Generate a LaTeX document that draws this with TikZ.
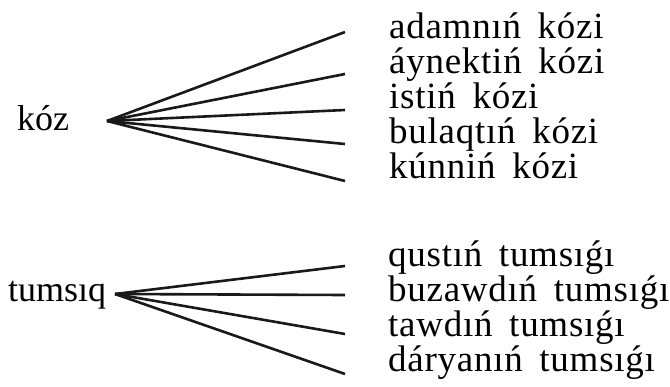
\documentclass[tikz,border=0pt]{standalone}
\usepackage{fontspec}
\setmainfont{Liberation Serif}
\newfontfamily\wordfont{Liberation Serif}[LetterSpace=2]
\newcommand{\wsp}{\hspace{0.45em}}
\tikzset{
  head/.style={anchor=base west, inner sep=0pt, font=\fontsize{36}{36}\selectfont},
  word/.style={anchor=base west, inner sep=0pt, font=\wordfont\fontsize{37}{37}\selectfont},
  ray/.style={line width=2.6pt, black!90}
}
\begin{document}
\begin{tikzpicture}[x=1pt,y=-1pt]
  % page size of the reference, measured in px
  \useasboundingbox (0,0) rectangle (670,386);
  % first group
  \node[head] (koz) at (17,130) {kóz};
  \coordinate (kozO) at (107,121);
  \node[word] (k1) at (389,38) {adamnıń\wsp kózi};
  \node[word] (k2) at (389,73) {áynektiń\wsp kózi};
  \node[word] (k3) at (389,108) {istiń\wsp kózi};
  \node[word] (k4) at (389,143) {bulaqtıń\wsp kózi};
  \node[word] (k5) at (389,178) {kúnniń\wsp kózi};
  \coordinate (e1) at (345,32);
  \coordinate (e2) at (345,74);
  \coordinate (e3) at (345,110);
  \coordinate (e4) at (345,144);
  \coordinate (e5) at (345,181);
  \draw[ray] (kozO) -- (e1);
  \draw[ray] (kozO) -- (e2);
  \draw[ray] (kozO) -- (e3);
  \draw[ray] (kozO) -- (e4);
  \draw[ray] (kozO) -- (e5);
  % second group
  \node[head] (tum) at (8,301) {tumsıq};
  \coordinate (tumO) at (115,294);
  \node[word] (t1) at (388,266) {qustıń\wsp tumsıǵı};
  \node[word] (t2) at (388,301) {buzawdıń\wsp tumsıǵı};
  \node[word] (t3) at (388,336) {tawdıń\wsp tumsıǵı};
  \node[word] (t4) at (388,371) {dáryanıń\wsp tumsıǵı};
  \coordinate (f1) at (345,266);
  \coordinate (f2) at (345,295);
  \coordinate (f3) at (345,334);
  \coordinate (f4) at (345,374);
  \draw[ray] (tumO) -- (f1);
  \draw[ray] (tumO) -- (f2);
  \draw[ray] (tumO) -- (f3);
  \draw[ray] (tumO) -- (f4);
\end{tikzpicture}
\end{document}
